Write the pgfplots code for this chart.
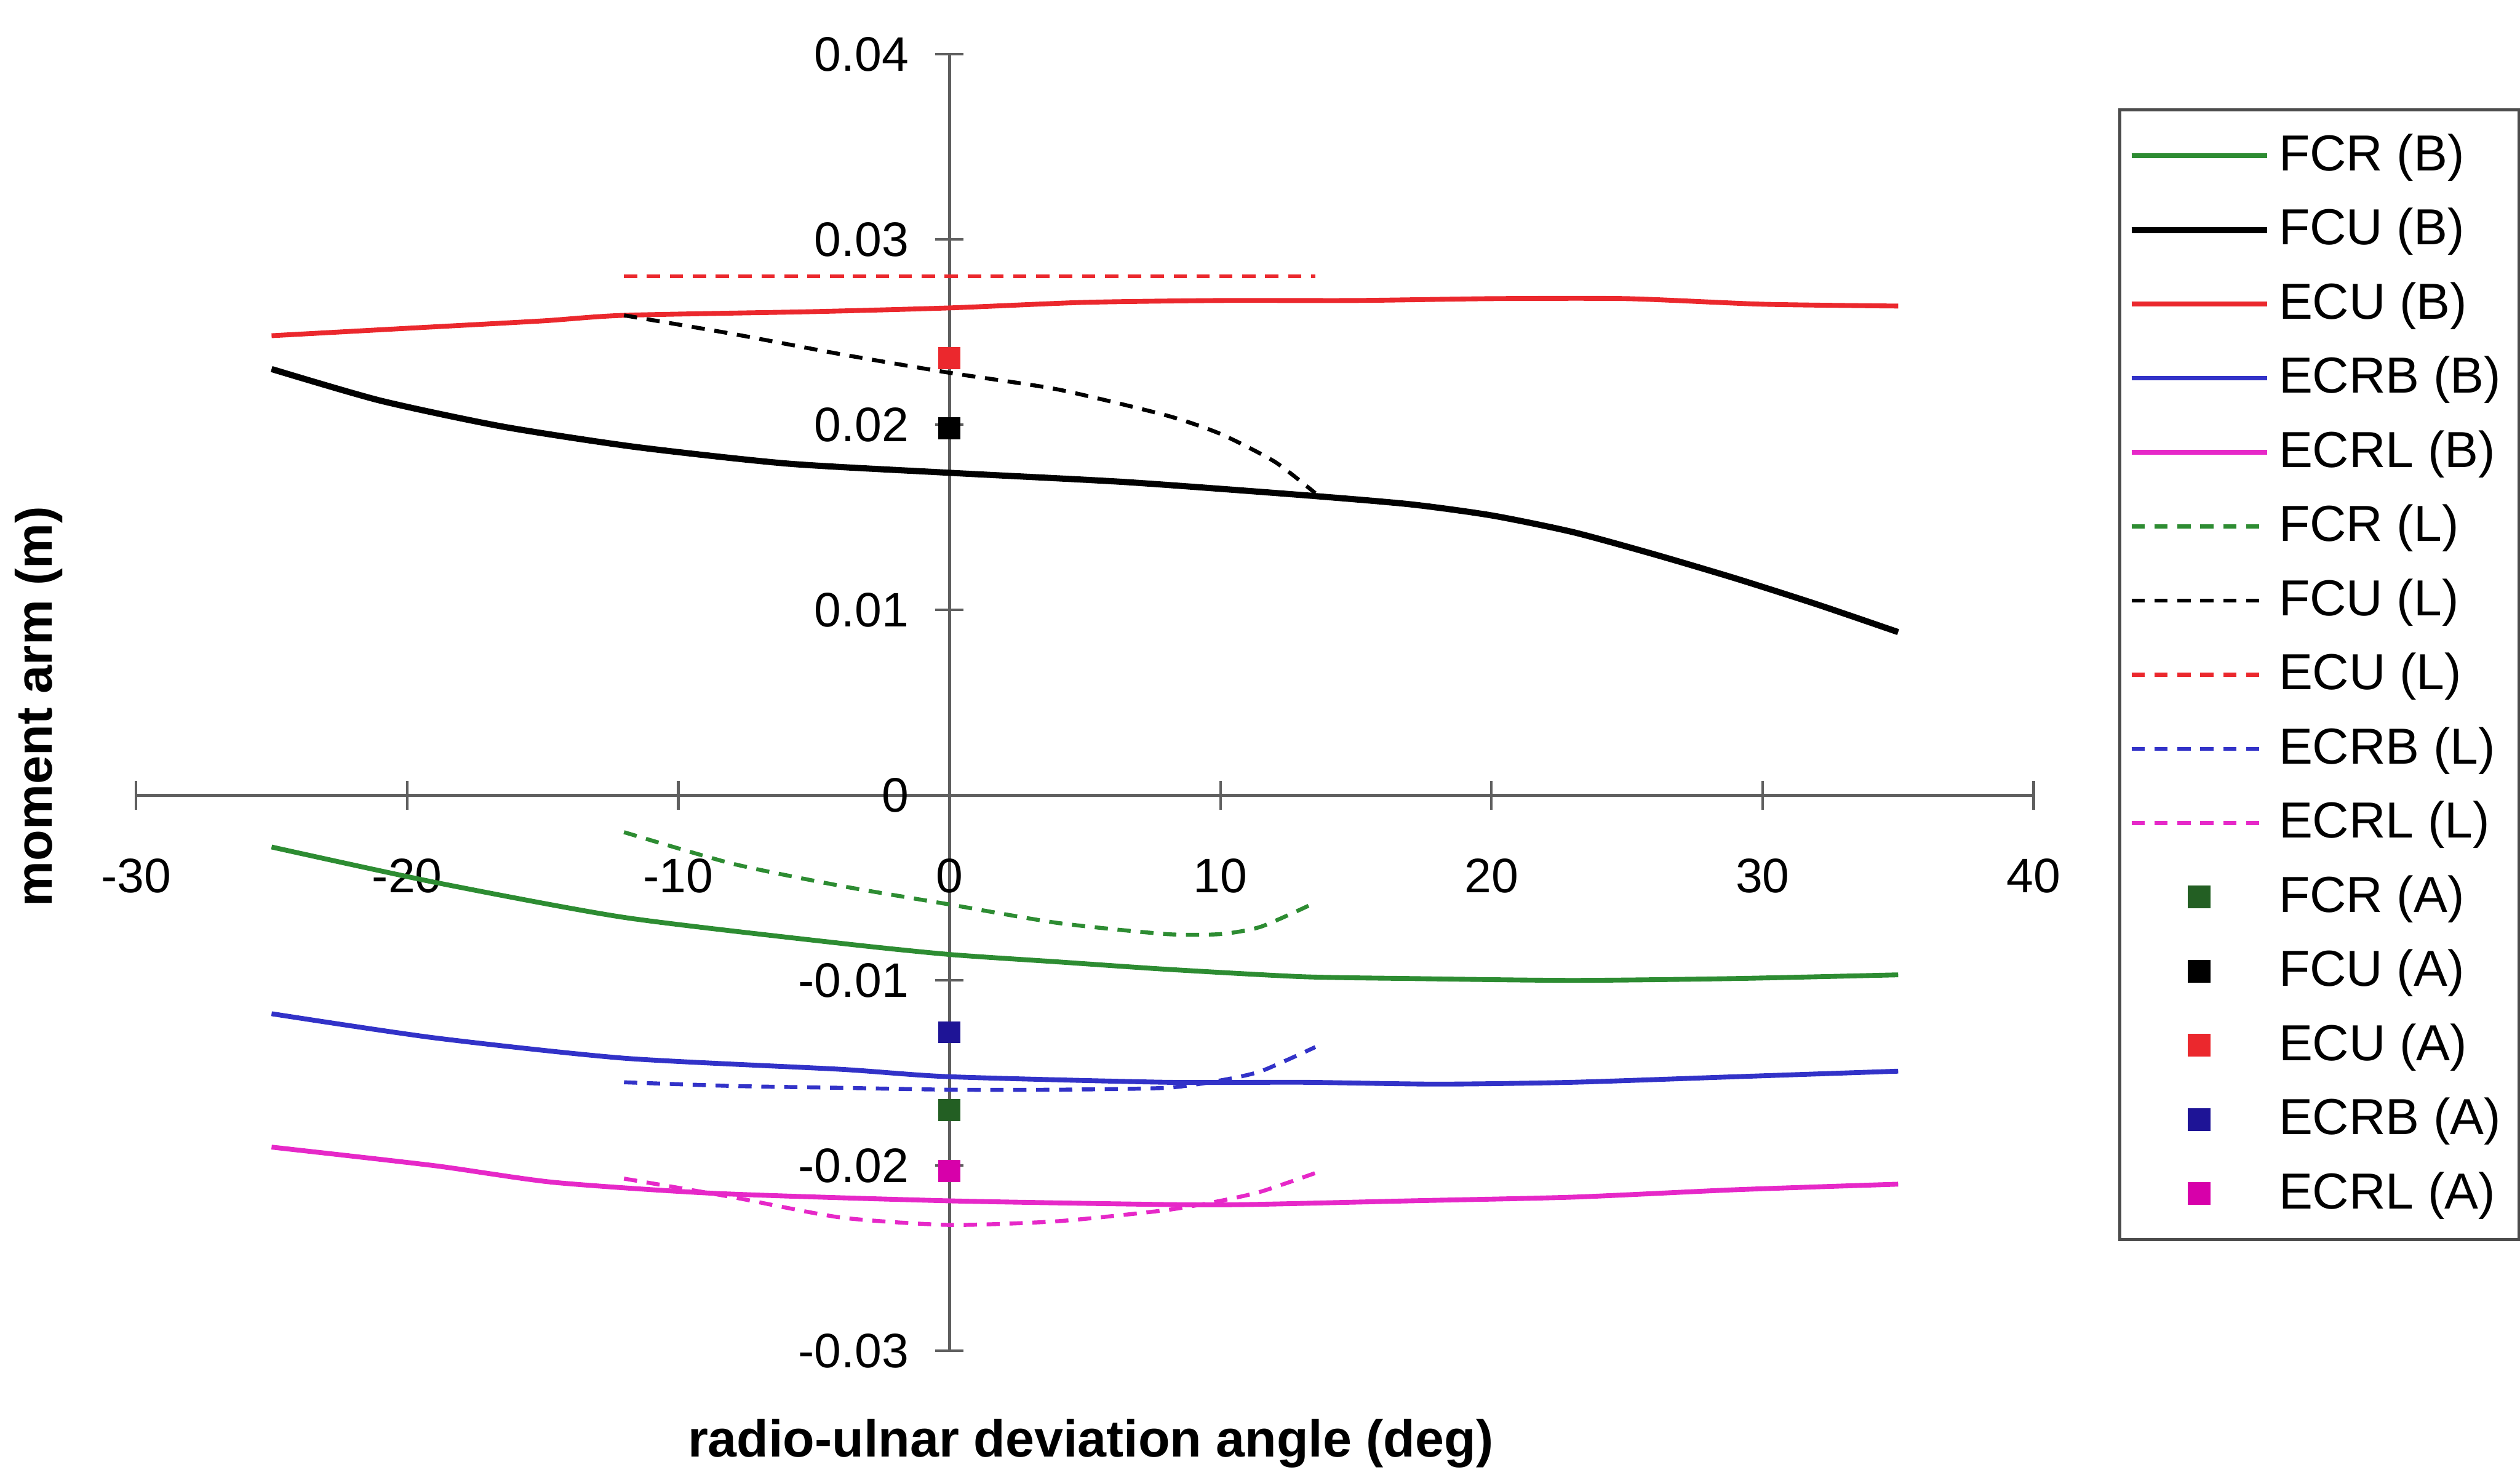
\documentclass[border=0pt]{standalone}
\usepackage{fontspec}
\setmainfont{Liberation Sans}
\usepackage{pgfplots}
\pgfplotsset{compat=1.18}

\definecolor{fcrgreen}{RGB}{45,140,50}
\definecolor{fcrdark}{RGB}{35,95,35}
\definecolor{ecured}{RGB}{235,40,45}
\definecolor{ecrbblue}{RGB}{50,50,200}
\definecolor{ecrbdark}{RGB}{30,20,150}
\definecolor{ecrlmag}{RGB}{230,40,200}
\definecolor{ecrldark}{RGB}{215,0,170}
\definecolor{axisgray}{RGB}{95,95,95}

\pgfplotsset{
  lineleg/.style={legend image code/.code={\draw[##1] (0cm,0cm) -- (1.08cm,0cm);}},
  markleg/.style={legend image code/.code={\draw[##1] plot coordinates {(0.54cm,0cm)};}},
  Bstyle/.style={line width=1.1pt, smooth, tension=0.4},
  Lstyle/.style={line width=0.9pt, dash pattern=on 3pt off 2.2pt, smooth, tension=0.4},
  Astyle/.style={only marks, mark=square*, mark size=2.3pt, markleg},
}

\begin{document}
\begin{tikzpicture}
% page area of the scanned figure
\path (-1.059,-1.008) rectangle (18.95,10.78);
\begin{axis}[
  width=15.146cm, height=10.348cm, scale only axis,
  xmin=-30, xmax=40, ymin=-0.03, ymax=0.04,
  enlargelimits=false,
  axis lines=middle,
  axis line style={-, draw=axisgray, line width=0.7pt},
  xtick={-30,-20,-10,0,10,20,30,40},
  xticklabels={-30,-20,-10,0,10,20,30,40},
  ytick={-0.03,-0.02,-0.01,0,0.01,0.02,0.03,0.04},
  yticklabels={-0.03,-0.02,-0.01,0,0.01,0.02,0.03,0.04},
  scaled x ticks=false, scaled y ticks=false,
  tick align=center, major tick length=0.23cm,
  tick style={draw=axisgray, line width=0.6pt},
  hide obscured x ticks=false, hide obscured y ticks=false,
  tick label style={font=\fontsize{11}{13}\selectfont},
  xticklabel style={anchor=north, yshift=-0.27cm},
  yticklabel style={anchor=east, xshift=-0.085cm},
  xlabel={radio-ulnar deviation angle (deg)},
  ylabel={moment arm (m)},
  xlabel style={at={(axis description cs:0.503,-0.0715)}, anchor=center,
    font=\fontsize{11.8}{14}\selectfont\bfseries},
  ylabel style={at={(axis description cs:-0.0514,0.497)}, anchor=center, rotate=90,
    font=\fontsize{11.6}{14}\selectfont\bfseries},
  legend style={at={(axis description cs:1,1)}, anchor=north west,
    xshift=0.676cm, yshift=-0.434cm, draw=black!70, line width=0.6pt,
    font=\fontsize{11.5}{13}\selectfont, row sep=3.0pt, inner xsep=2pt, inner ysep=3.5pt},
  legend cell align=left,
  lineleg,
]
% (B) curves
\addplot[fcrgreen, Bstyle] coordinates {
  (-25,-0.0028) (-19,-0.0047) (-12,-0.0066) (-4,-0.0080) (0,-0.0086) (4,-0.0090)
  (8,-0.0094) (13,-0.0098) (17,-0.0099) (23,-0.0100) (29,-0.0099) (35,-0.0097)};
\addlegendentry{FCR (B)}
\addplot[black, Bstyle, line width=1.4pt] coordinates {
  (-25,0.0230) (-21,0.0213) (-16.5,0.0199) (-11.6,0.0188) (-6,0.0179) (0,0.0174)
  (6.5,0.0169) (13,0.0162) (17,0.0157) (20,0.0151) (23,0.0142) (26,0.0130)
  (29,0.0117) (32,0.0103) (35,0.0088)};
\addlegendentry{FCU (B)}
\addplot[ecured, Bstyle] coordinates {
  (-25,0.0248) (-20,0.0252) (-15,0.0256) (-12,0.0259) (-5,0.0261) (0,0.0263)
  (5,0.0266) (10,0.0267) (15,0.0267) (20,0.0268) (25,0.0268) (30,0.0265) (35,0.0264)};
\addlegendentry{ECU (B)}
\addplot[ecrbblue, Bstyle] coordinates {
  (-25,-0.0118) (-19,-0.0131) (-12,-0.0142) (-4,-0.0148) (0,-0.0152) (8,-0.0155)
  (13,-0.0155) (18,-0.0156) (23,-0.0155) (29,-0.0152) (35,-0.0149)};
\addlegendentry{ECRB (B)}
\addplot[ecrlmag, Bstyle] coordinates {
  (-25,-0.0190) (-19,-0.0200) (-14.6,-0.0209) (-8.6,-0.0215) (0,-0.0219) (8,-0.0221)
  (11,-0.0221) (17,-0.0219) (23,-0.0217) (29,-0.0213) (35,-0.0210)};
\addlegendentry{ECRL (B)}
% (L) curves
\addplot[fcrgreen, Lstyle] coordinates {
  (-12,-0.0020) (-8,-0.0037) (-4,-0.0049) (0,-0.0059) (4,-0.0069) (8,-0.0075)
  (10,-0.0075) (11.5,-0.0071) (13.5,-0.0058)};
\addlegendentry{FCR (L)}
\addplot[black, Lstyle] coordinates {
  (-12,0.0259) (-8,0.0249) (-4,0.0238) (0,0.0228) (4,0.0219) (8,0.0205)
  (10,0.0195) (12,0.0180) (13.5,0.0163)};
\addlegendentry{FCU (L)}
\addplot[ecured, Lstyle] coordinates {
  (-12,0.0280) (-4,0.0280) (4,0.0280) (13.5,0.0280)};
\addlegendentry{ECU (L)}
\addplot[ecrbblue, Lstyle] coordinates {
  (-12,-0.0155) (-8,-0.0157) (-4,-0.0158) (0,-0.0159) (4,-0.0159) (8,-0.0158)
  (10,-0.0154) (11.5,-0.0149) (13.5,-0.0136)};
\addlegendentry{ECRB (L)}
\addplot[ecrlmag, Lstyle] coordinates {
  (-12,-0.0207) (-8,-0.0217) (-4,-0.0228) (0,-0.0232) (4,-0.0230) (8,-0.0224)
  (10,-0.0219) (11.5,-0.0214) (13.5,-0.0204)};
\addlegendentry{ECRL (L)}
% (A) points
\addplot[Astyle, color=fcrdark] coordinates {(0,-0.0170)};
\addlegendentry{FCR (A)}
\addplot[Astyle, color=black] coordinates {(0,0.0198)};
\addlegendentry{FCU (A)}
\addplot[Astyle, color=ecured] coordinates {(0,0.0236)};
\addlegendentry{ECU (A)}
\addplot[Astyle, color=ecrbdark] coordinates {(0,-0.0128)};
\addlegendentry{ECRB (A)}
\addplot[Astyle, color=ecrldark] coordinates {(0,-0.0203)};
\addlegendentry{ECRL (A)}
\end{axis}
\end{tikzpicture}
\end{document}
